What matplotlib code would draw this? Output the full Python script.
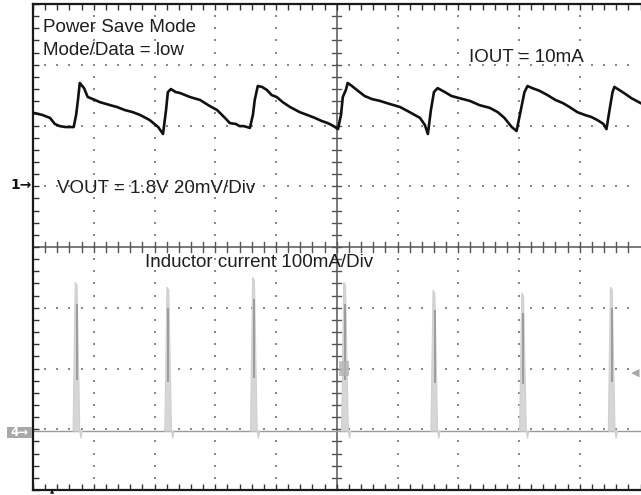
import numpy as np
import matplotlib
matplotlib.use("Agg")
import matplotlib.pyplot as plt
from matplotlib.patches import Rectangle, Polygon

# ---- scope settings -------------------------------------------------------
VOUT_SCALE_MV = 20.0        # mV per division (CH1)
IL_SCALE_MA = 100.0         # mA per division (CH4)
CH1_REF_DIV = 1.0           # CH1 ground marker (1.8 V level)
CH4_REF_DIV = -3.03         # CH4 zero-current marker

# ---- CH1: output voltage ripple (time in divisions, mV above 1.8 V) -------
vout_t = [0.02, 0.15, 0.28, 0.36, 0.44, 0.53, 0.67, 0.71, 0.74, 0.77, 0.84, 0.90,
          1.02, 1.10, 1.27, 1.38, 1.51, 1.64, 1.76, 1.92, 2.06, 2.14, 2.19, 2.22,
          2.27, 2.35, 2.42, 2.58, 2.75, 2.91, 3.03, 3.16, 3.24, 3.34, 3.40, 3.47,
          3.57, 3.62, 3.65, 3.70, 3.77, 3.85, 3.93, 4.01, 4.11, 4.23, 4.39, 4.51,
          4.64, 4.75, 4.85, 4.95, 5.02, 5.07, 5.10, 5.15, 5.18, 5.25, 5.33, 5.46,
          5.58, 5.71, 5.87, 6.04, 6.20, 6.37, 6.45, 6.50, 6.55, 6.60, 6.66, 6.78,
          6.89, 7.02, 7.19, 7.35, 7.52, 7.65, 7.76, 7.88, 7.96, 8.03, 8.09, 8.14,
          8.22, 8.34, 8.47, 8.60, 8.72, 8.83, 8.96, 9.08, 9.19, 9.29, 9.39, 9.44,
          9.49, 9.54, 9.57, 9.65, 9.75, 9.85, 10.0]
vout_mv = [24.1, 23.5, 22.5, 20.5, 19.8, 19.5, 19.5, 23.5, 28.4, 34.0, 32.3, 29.4,
           28.4, 27.7, 26.7, 26.1, 25.1, 24.4, 23.5, 21.8, 19.5, 17.2, 25.1, 31.0,
           32.0, 31.0, 30.7, 29.4, 28.4, 26.4, 25.1, 22.5, 20.8, 20.5, 19.8, 19.8,
           19.2, 23.5, 28.4, 33.0, 32.7, 31.7, 30.0, 29.4, 27.7, 26.1, 24.4, 23.5,
           22.5, 21.5, 20.8, 19.8, 18.8, 23.5, 29.4, 31.7, 34.0, 33.0, 31.7, 29.7,
           28.7, 28.1, 27.1, 26.1, 24.4, 22.5, 20.2, 17.2, 25.1, 31.0, 32.3, 31.0,
           29.7, 29.0, 28.1, 26.7, 25.8, 24.4, 22.5, 19.5, 18.2, 25.1, 31.0, 33.0,
           32.3, 31.4, 30.0, 28.4, 27.4, 26.1, 24.4, 23.5, 22.8, 21.8, 20.5, 18.8,
           25.1, 31.0, 32.7, 31.7, 30.4, 29.0, 27.4]

# ---- CH4: inductor current pulses (time in divisions, peak in mA) ---------
pulse_t = [0.71, 2.22, 3.63, 5.13, 6.60, 8.06, 9.52]
pulse_peak_ma = [245, 237, 253, 245, 232, 227, 237]

# ---- figure ---------------------------------------------------------------
W, H = 641, 495
fig = plt.figure(figsize=(W / 100, H / 100), dpi=100)
fig.patch.set_facecolor("white")

left_px, top_px, bottom_px = 33, 4, 490
div_px = (bottom_px - top_px) / 8.0
ax = fig.add_axes([left_px / W, (H - bottom_px) / H,
                   10 * div_px / W, (bottom_px - top_px) / H])
ax.set_xlim(0, 10)
ax.set_ylim(-4, 4)
ax.set_facecolor("white")

# border with inward minor ticks
for side in ("left", "top", "bottom"):
    ax.spines[side].set_color("#1a1a1a")
    ax.spines[side].set_linewidth(1.6)
ax.spines["right"].set_visible(False)
ax.set_xticks(np.arange(0, 10.01, 0.2))
ax.set_yticks(np.arange(-4, 4.01, 0.2))
ax.tick_params(direction="in", length=4.5, width=1.0, color="#333333",
               top=True, bottom=True, left=True, right=False,
               labelbottom=False, labelleft=False)

# dotted graticule
sub = np.arange(0.2, 10.0, 0.2)
subv = np.arange(-3.8, 4.0, 0.2)
for gx in range(1, 10):
    if gx == 5:
        continue
    ax.plot(np.full_like(subv, gx), subv, ls="none", marker="s", ms=1.6,
            color="#8a8a8a", mew=0, zorder=1)
for gy in range(-3, 4):
    if gy == 0:
        continue
    ax.plot(sub, np.full_like(sub, gy), ls="none", marker="s", ms=1.6,
            color="#8a8a8a", mew=0, zorder=1)

# centre cross-hair with ticks
ax.axvline(5, color="#555555", lw=1.1, zorder=1)
ax.axhline(0, color="#555555", lw=1.1, zorder=1)
tk = 0.075
for yy in subv:
    ax.plot([5 - tk, 5 + tk], [yy, yy], color="#555555", lw=1.0, zorder=1)
for xx in sub:
    ax.plot([xx, xx], [-tk, tk], color="#555555", lw=1.0, zorder=1)

# CH4 inductor current
ax.plot([0, 10], [CH4_REF_DIV, CH4_REF_DIV], color="#9a9a9a", lw=1.0, zorder=2)
for t0, pk in zip(pulse_t, pulse_peak_ma):
    top = CH4_REF_DIV + pk / IL_SCALE_MA
    poly = Polygon([(t0 - 0.05, CH4_REF_DIV), (t0 - 0.015, top),
                    (t0 + 0.015, top - 0.05), (t0 + 0.06, CH4_REF_DIV),
                    (t0 + 0.08, CH4_REF_DIV - 0.12), (t0 + 0.1, CH4_REF_DIV)],
                   closed=True, facecolor="#d6d6d6", edgecolor="#cfcfcf",
                   lw=0.8, zorder=2)
    ax.add_patch(poly)
    lo = CH4_REF_DIV + 0.35 * pk / IL_SCALE_MA
    hi = CH4_REF_DIV + 0.85 * pk / IL_SCALE_MA
    ax.plot([t0 + 0.01, t0 + 0.01], [lo, hi], color="#9c9c9c", lw=1.4, zorder=2)

# CH1 output voltage
vy = CH1_REF_DIV + np.asarray(vout_mv) / VOUT_SCALE_MV
ax.plot(vout_t, vy, color="#111111", lw=1.9, solid_joinstyle="round", zorder=3)

# trigger / level markers
ax.add_patch(Rectangle((5.03, -2.13), 0.17, 0.25, facecolor="#b4b4b4",
                       edgecolor="none", alpha=0.8, zorder=2))
ax.text(9.92, -2.07, "\u25C0", color="#a8a8a8", fontsize=8,
        ha="center", va="center", zorder=2, family="DejaVu Sans")

# ---- annotations ----------------------------------------------------------
font = dict(family=["Liberation Sans", "DejaVu Sans"], fontsize=13.5,
            color="#1e1e1e")


def label(x_px, baseline_px, s):
    fig.text(x_px / W, (H - baseline_px) / H, s, ha="left", va="baseline",
             **font)


label(43, 32, "Power Save Mode")
label(43, 55, "Mode/Data = low")
label(469, 62, "IOUT = 10mA")
label(57, 193, "VOUT = 1.8V 20mV/Div")
label(145, 267, "Inductor current 100mA/Div")

# channel reference markers
fig.text(32 / W, (H - 185) / H, "1\u2192", ha="right", va="center",
         fontsize=10, fontweight="bold", color="#111111",
         family=["DejaVu Sans"])
fig.patches.append(Rectangle((7 / W, (H - 438) / H), 25 / W, 11 / H,
                             transform=fig.transFigure, facecolor="#a9a9a9",
                             edgecolor="none"))
fig.text(19.5 / W, (H - 432.5) / H, "4\u2192", ha="center", va="center",
         fontsize=8.5, fontweight="bold", color="white",
         family=["DejaVu Sans"])
fig.text(52 / W, (H - 492) / H, "\u25B2", ha="center", va="center",
         fontsize=4, color="#111111", family=["DejaVu Sans"])

fig.savefig("out.png", dpi=100, facecolor="white")
